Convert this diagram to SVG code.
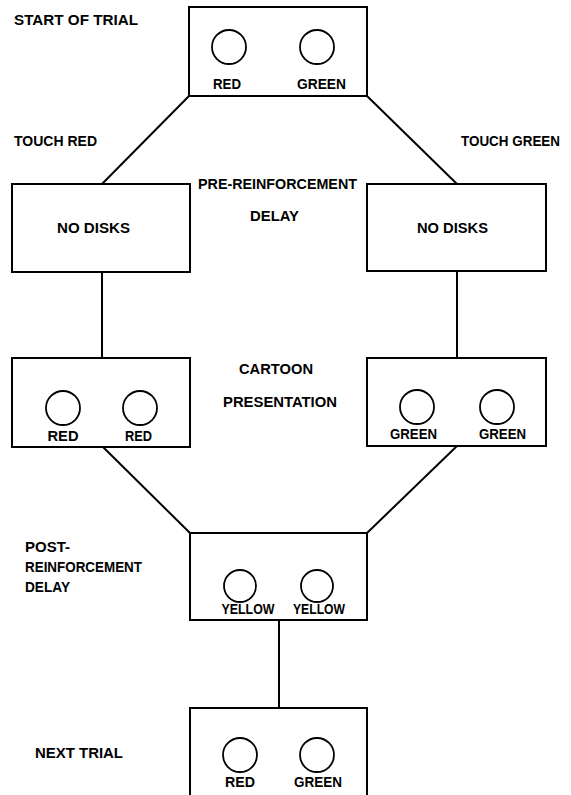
<svg xmlns="http://www.w3.org/2000/svg" width="571" height="795" viewBox="0 0 571 795">
<style>
.box{fill:#fff;stroke:#000;stroke-width:2}
.disk{fill:none;stroke:#000;stroke-width:1.8}
.ln{stroke:#000;stroke-width:2;fill:none}
text{font-family:"Liberation Sans",Arial,sans-serif;font-weight:bold;font-size:14.5px;fill:#000}
.c{text-anchor:middle}
.lab{font-size:15px}
</style>
<rect width="571" height="795" fill="#fff"/>
<g id="connectors">
<line class="ln" x1="189" y1="96" x2="102" y2="184"/>
<line class="ln" x1="367" y1="96" x2="457" y2="184"/>
<line class="ln" x1="102" y1="272" x2="102" y2="358"/>
<line class="ln" x1="457" y1="271" x2="457" y2="358"/>
<line class="ln" x1="103" y1="447" x2="190" y2="533"/>
<line class="ln" x1="457" y1="446" x2="367" y2="533"/>
<line class="ln" x1="279" y1="620" x2="279" y2="708"/>
</g>
<g id="labels">
<text x="14" y="25" textLength="124" lengthAdjust="spacingAndGlyphs">START OF TRIAL</text>
<text x="14" y="146" textLength="83" lengthAdjust="spacingAndGlyphs">TOUCH RED</text>
<text x="461" y="146" textLength="99" lengthAdjust="spacingAndGlyphs">TOUCH GREEN</text>
<text x="198" y="189" textLength="159" lengthAdjust="spacingAndGlyphs">PRE-REINFORCEMENT</text>
<text x="250" y="221" textLength="49" lengthAdjust="spacingAndGlyphs">DELAY</text>
<text x="239" y="374" textLength="74" lengthAdjust="spacingAndGlyphs">CARTOON</text>
<text x="223" y="407" textLength="114" lengthAdjust="spacingAndGlyphs">PRESENTATION</text>
<text x="25" y="552" textLength="45" lengthAdjust="spacingAndGlyphs">POST-</text>
<text x="25" y="572" textLength="117" lengthAdjust="spacingAndGlyphs">REINFORCEMENT</text>
<text x="25" y="592" textLength="45" lengthAdjust="spacingAndGlyphs">DELAY</text>
<text x="35" y="758" textLength="88" lengthAdjust="spacingAndGlyphs">NEXT TRIAL</text>
</g>
<g id="start">
<rect class="box" x="189" y="7" width="178" height="89"/>
<circle class="disk" cx="229" cy="47" r="17"/>
<circle class="disk" cx="317" cy="47" r="17"/>
<text class="c lab" x="227" y="89" textLength="28" lengthAdjust="spacingAndGlyphs">RED</text>
<text class="c lab" x="321.5" y="89" textLength="49" lengthAdjust="spacingAndGlyphs">GREEN</text>
</g>
<g id="nodisk-left">
<rect class="box" x="12" y="184" width="178" height="88"/>
<text x="57" y="233" textLength="73" lengthAdjust="spacingAndGlyphs">NO DISKS</text>
</g>
<g id="nodisk-right">
<rect class="box" x="367" y="184" width="179" height="87"/>
<text x="417" y="233" textLength="71" lengthAdjust="spacingAndGlyphs">NO DISKS</text>
</g>
<g id="red-red">
<rect class="box" x="12" y="358" width="178" height="89"/>
<circle class="disk" cx="63" cy="408" r="17"/>
<circle class="disk" cx="140" cy="408" r="17"/>
<text class="c lab" x="63" y="441" textLength="31" lengthAdjust="spacingAndGlyphs">RED</text>
<text class="c lab" x="138.5" y="441" textLength="27" lengthAdjust="spacingAndGlyphs">RED</text>
</g>
<g id="green-green">
<rect class="box" x="367" y="358" width="179" height="88"/>
<circle class="disk" cx="417" cy="407" r="17"/>
<circle class="disk" cx="497" cy="407" r="17"/>
<text class="c lab" x="413.5" y="439" textLength="47" lengthAdjust="spacingAndGlyphs">GREEN</text>
<text class="c lab" x="502.5" y="439" textLength="47" lengthAdjust="spacingAndGlyphs">GREEN</text>
</g>
<g id="yellow">
<rect class="box" x="190" y="533" width="177" height="87"/>
<circle class="disk" cx="240" cy="586" r="16"/>
<circle class="disk" cx="317" cy="586" r="16"/>
<text class="c lab" x="248" y="614" textLength="53" lengthAdjust="spacingAndGlyphs">YELLOW</text>
<text class="c lab" x="319" y="614" textLength="52" lengthAdjust="spacingAndGlyphs">YELLOW</text>
</g>
<g id="next">
<rect class="box" x="190" y="708" width="177" height="100"/>
<circle class="disk" cx="240" cy="755" r="17"/>
<circle class="disk" cx="317" cy="755" r="17"/>
<text class="c lab" x="240" y="787" textLength="30" lengthAdjust="spacingAndGlyphs">RED</text>
<text class="c lab" x="318" y="787" textLength="48" lengthAdjust="spacingAndGlyphs">GREEN</text>
</g>
</svg>
